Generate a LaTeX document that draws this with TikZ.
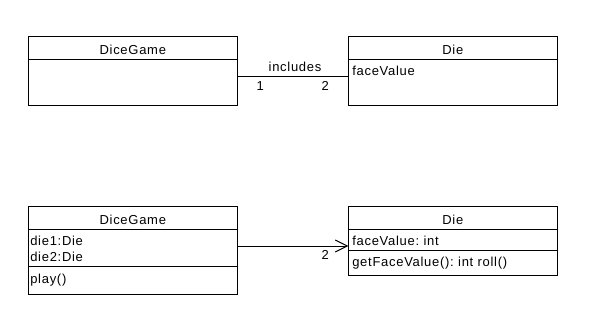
\documentclass[tikz,border=0pt]{standalone}
\usepackage{fontspec}
\setmainfont{Liberation Sans}[LetterSpace=5.5]
\frenchspacing
\usetikzlibrary{positioning,arrows.meta}

\begin{document}
\begin{tikzpicture}[x=1pt, y=-1pt,
    every node/.style={font=\fontsize{13}{15.3}\selectfont},
    box/.style={draw, line width=1pt, outer sep=0pt, inner ysep=0pt},
    head/.style={box, inner xsep=0pt, text width=209pt, align=center, text height=17.7pt, text depth=5.3pt},
    gamepart/.style={box, inner xsep=2pt, text width=205pt, align=left},
    diepart/.style={box, inner xsep=4pt, text width=201pt, align=left},
    mult/.style={anchor=base, inner sep=0pt}]
    \useasboundingbox (0,0) rectangle (608,324);

    \node[head, anchor=north west] (gameA) at (28.3,36.3) {DiceGame};
    \node[gamepart, below=0pt of gameA, minimum height=46pt] (gameAbody) {};
    \node[head, anchor=north west] (dieA) at (348.3,36.3) {Die};
    \node[diepart, below=0pt of dieA, text height=16.4pt, text depth=29.6pt] (dieAbody) {faceValue};

    \coordinate (inclA) at ([yshift=6.3pt]gameAbody.east);
    \draw[line width=1pt] (inclA) -- (inclA -| dieAbody.west)
        node[mult, pos=.52, yshift=5pt] {includes}
        node[mult, pos=.207, yshift=-14pt] {1}
        node[mult, pos=.793, yshift=-14pt] {2};

    \node[head, anchor=north west] (gameB) at (28.3,206.3) {DiceGame};
    \node[gamepart, below=0pt of gameB, text height=16.4pt, text depth=20.6pt] (gameBattr) {die1:Die\\die2:Die};
    \node[gamepart, below=0pt of gameBattr, text height=17pt, text depth=11.4pt] (gameBops) {play()};
    \node[head, anchor=north west] (dieB) at (348.3,206.3) {Die};
    \node[diepart, below=0pt of dieB, text height=15.7pt, text depth=5.7pt] (dieBattr) {faceValue: int};
    \node[diepart, below=0pt of dieBattr, text height=16pt, text depth=8.6pt] (dieBops) {getFaceValue(): int roll()};

    \coordinate (useB) at ([yshift=1.8pt]gameBattr.east);
    \draw[line width=1pt, -{Straight Barb[length=12pt, width=12pt]}] (useB) -- (useB -| dieBattr.west)
        node[mult, pos=.793, yshift=-13pt] {2};
\end{tikzpicture}
\end{document}
